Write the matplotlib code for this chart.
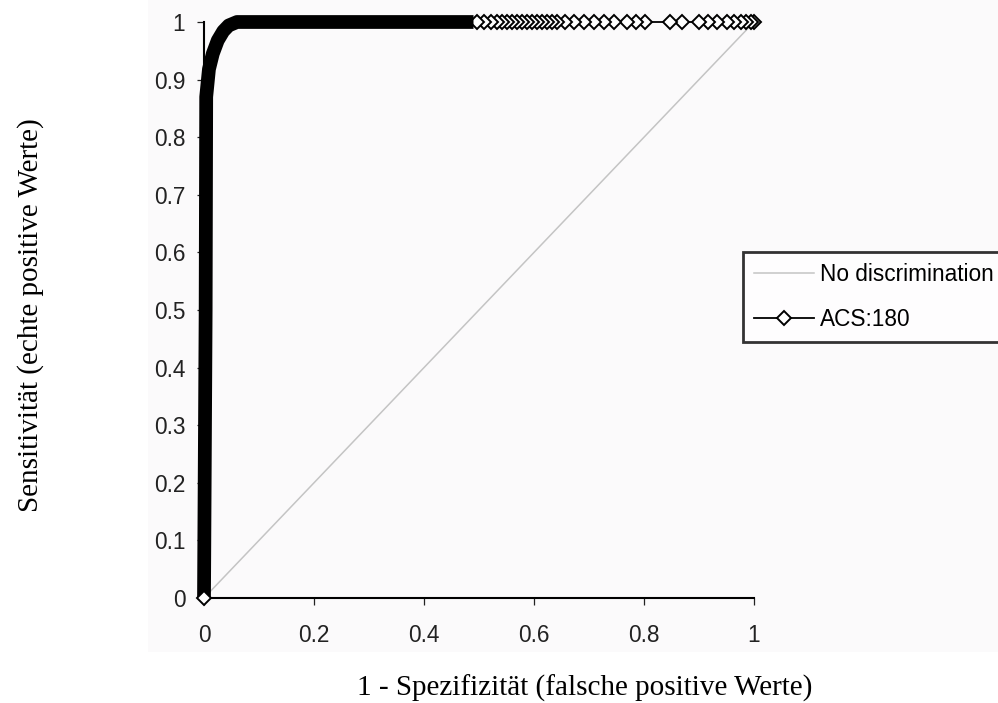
import matplotlib

matplotlib.use("Agg")
import matplotlib.pyplot as plt
from matplotlib.patches import Rectangle

# ROC curve for ACS:180, ordered from (1, 1) back to (0, 0) like the original series
# sparse tail (individual diamonds visible)
roc_fpr_sparse = [1.0, 0.995, 0.985, 0.976, 0.964, 0.951, 0.933, 0.916, 0.900, 0.869,
                  0.847, 0.802, 0.785, 0.769, 0.745, 0.727, 0.709, 0.691, 0.673, 0.656,
                  0.642, 0.633, 0.624, 0.615, 0.605, 0.596, 0.587, 0.578, 0.569, 0.560,
                  0.551, 0.542, 0.533, 0.522, 0.509, 0.496]
roc_tpr_sparse = [1.0] * len(roc_fpr_sparse)

# dense part where markers merge into a solid band
roc_fpr_dense = [0.49, 0.06, 0.045, 0.035, 0.025, 0.016, 0.009, 0.004, 0.003, 0.0]
roc_tpr_dense = [1.0, 1.0, 0.994, 0.984, 0.968, 0.945, 0.918, 0.87, 0.5, 0.0]

diag_x = [0.0, 1.0]
diag_y = [0.0, 1.0]

x_ticks = [0, 0.2, 0.4, 0.6, 0.8, 1]
y_ticks = [0, 0.1, 0.2, 0.3, 0.4, 0.5, 0.6, 0.7, 0.8, 0.9, 1]

W, H = 998, 703
fig = plt.figure(figsize=(W / 100, H / 100), dpi=100)
fig.patch.set_facecolor("white")
fig.patches.append(Rectangle((148 / W, 51 / H), 1, 1, transform=fig.transFigure,
                             facecolor="#fbfafb", edgecolor="none", zorder=-10))

ax = fig.add_axes([204 / W, 105 / H, 550 / W, 576 / H])
ax.set_facecolor("none")

marker_kw = dict(marker="D", markersize=7.2, markerfacecolor="white",
                 markeredgecolor="black", markeredgewidth=1.4)

ax.plot(diag_x, diag_y, color="#c4c4c4", linewidth=1.1, zorder=2, label="No discrimination")
ax.plot(roc_fpr_sparse, roc_tpr_sparse, color="black", linewidth=1.3, zorder=3,
        clip_on=False, label="ACS:180", **marker_kw)
ax.plot(roc_fpr_dense, roc_tpr_dense, color="black", linewidth=9.9,
        solid_joinstyle="round", solid_capstyle="butt", zorder=4, clip_on=False)
ax.plot(roc_fpr_dense[-1:], roc_tpr_dense[-1:], linestyle="none", zorder=5,
        clip_on=False, **marker_kw)

ax.set_xlim(0, 1)
ax.set_ylim(0, 1)
ax.set_xticks(x_ticks)
ax.set_xticklabels([f"{v:g}" for v in x_ticks])
ax.set_yticks(y_ticks)
ax.set_yticklabels([f"{v:g}" for v in y_ticks])

for side in ("top", "right"):
    ax.spines[side].set_visible(False)
for side in ("left", "bottom"):
    ax.spines[side].set_linewidth(1.5)
    ax.spines[side].set_color("black")

ax.tick_params(axis="both", direction="out", length=5, width=0.9, colors="#222222")
ax.tick_params(axis="x", pad=14)
ax.tick_params(axis="y", pad=8.5)
for lab in ax.get_xticklabels() + ax.get_yticklabels():
    lab.set_fontfamily("Liberation Sans")
    lab.set_fontsize(16.3)
    lab.set_color("#222222")

label_font = {"family": "Liberation Serif", "size": 21, "color": "black"}
ax.set_xlabel("1 - Spezifizität (falsche positive Werte)", fontdict=label_font,
              ha="left", va="baseline")
ax.xaxis.set_label_coords((357 - 204) / 550, (598 - 696) / 576)
ax.set_ylabel("Sensitivität (echte positive Werte)", fontdict=label_font,
              ha="center", va="center")
ax.yaxis.set_label_coords((31 - 204) / 550, (598 - 315) / 576)

leg = ax.legend(loc="upper left", bbox_to_anchor=(743 / W, 1 - 252 / H),
                bbox_transform=fig.transFigure, frameon=True, fancybox=False,
                numpoints=1, handlelength=2.65, handletextpad=0.27,
                borderpad=0.5, labelspacing=0.95, borderaxespad=0,
                prop={"family": "Liberation Sans", "size": 16.3})
leg.get_frame().set_edgecolor("black")
leg.get_frame().set_linewidth(2)
leg.get_frame().set_facecolor("white")
leg.set_zorder(6)

fig.savefig("out.png", dpi=100)
